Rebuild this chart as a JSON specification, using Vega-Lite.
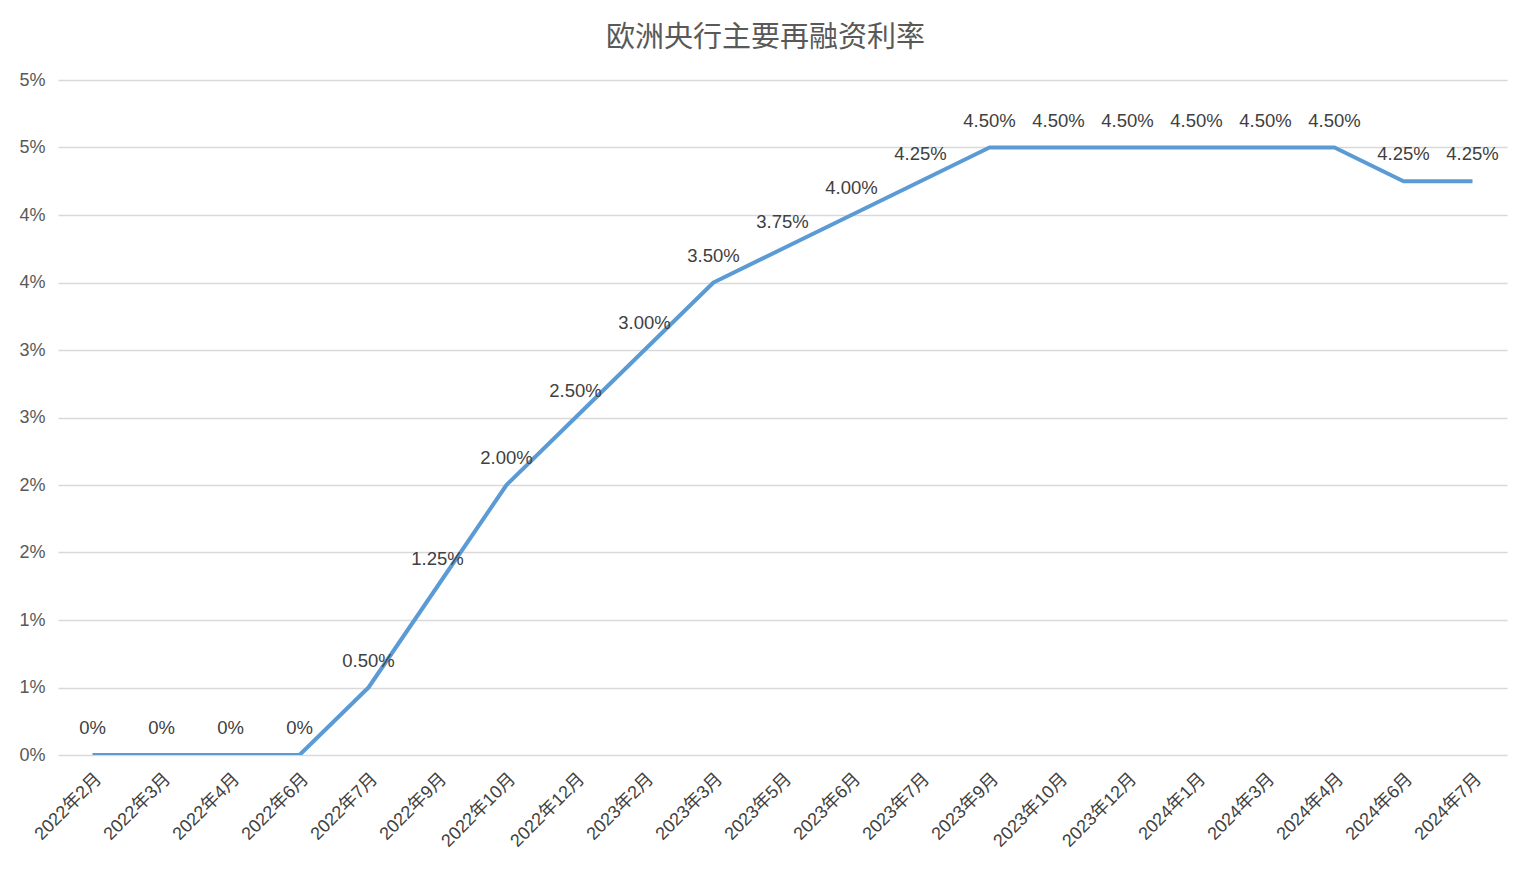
{
  "$schema": "https://vega.github.io/schema/vega-lite/v6.json",
  "autosize": {"type": "none"},
  "width": 1449,
  "height": 675,
  "padding": {"left": 58, "top": 80, "right": 25, "bottom": 119},
  "background": "white",
  "title": {
    "text": "欧洲央行主要再融资利率",
    "fontSize": 29,
    "font": "Noto Sans CJK SC",
    "fontWeight": "normal",
    "color": "#595959",
    "anchor": "middle",
    "frame": "group",
    "offset": 18,
    "dx": -17
  },
  "data": {
    "values": [
      {"month": "2022年2月", "rate": 0},
      {"month": "2022年3月", "rate": 0},
      {"month": "2022年4月", "rate": 0},
      {"month": "2022年6月", "rate": 0},
      {"month": "2022年7月", "rate": 0.5},
      {"month": "2022年9月", "rate": 1.25},
      {"month": "2022年10月", "rate": 2.0},
      {"month": "2022年12月", "rate": 2.5},
      {"month": "2023年2月", "rate": 3.0},
      {"month": "2023年3月", "rate": 3.5},
      {"month": "2023年5月", "rate": 3.75},
      {"month": "2023年6月", "rate": 4.0},
      {"month": "2023年7月", "rate": 4.25},
      {"month": "2023年9月", "rate": 4.5},
      {"month": "2023年10月", "rate": 4.5},
      {"month": "2023年12月", "rate": 4.5},
      {"month": "2024年1月", "rate": 4.5},
      {"month": "2024年3月", "rate": 4.5},
      {"month": "2024年4月", "rate": 4.5},
      {"month": "2024年6月", "rate": 4.25},
      {"month": "2024年7月", "rate": 4.25}
    ]
  },
  "encoding": {
    "x": {
      "field": "month",
      "type": "ordinal",
      "sort": null,
      "scale": {"type": "point", "padding": 0.5},
      "axis": {
        "title": null,
        "labelAngle": -45,
        "labelAlign": "right",
        "labelBaseline": "middle",
        "labelFontSize": 18,
        "labelFont": "Liberation Sans, Noto Sans CJK SC",
        "labelColor": "#404040",
        "labelPadding": 21,
        "labelOffset": 6,
        "ticks": false,
        "domain": false,
        "grid": false
      }
    },
    "y": {
      "field": "rate",
      "type": "quantitative",
      "scale": {"domain": [0, 5], "nice": false},
      "axis": {
        "title": null,
        "values": [0, 0.5, 1, 1.5, 2, 2.5, 3, 3.5, 4, 4.5, 5],
        "labelExpr": "round(datum.value) + '%'",
        "labelFontSize": 18,
        "labelFont": "Liberation Sans",
        "labelColor": "#595959",
        "labelPadding": 13,
        "ticks": false,
        "domain": false,
        "grid": true,
        "gridColor": "#d9d9d9",
        "gridWidth": 1.5
      }
    }
  },
  "layer": [
    {
      "mark": {"type": "line", "color": "#5b9bd5", "strokeWidth": 4, "clip": true, "strokeJoin": "round"}
    },
    {
      "mark": {"type": "text", "dy": -27, "fontSize": 18.5, "font": "Liberation Sans", "color": "#404040"},
      "encoding": {
        "text": {"field": "label"}
      },
      "transform": [
        {"calculate": "datum.rate == 0 ? '0%' : format(datum.rate, '.2f') + '%'", "as": "label"}
      ]
    }
  ],
  "config": {
    "view": {"stroke": null}
  }
}
